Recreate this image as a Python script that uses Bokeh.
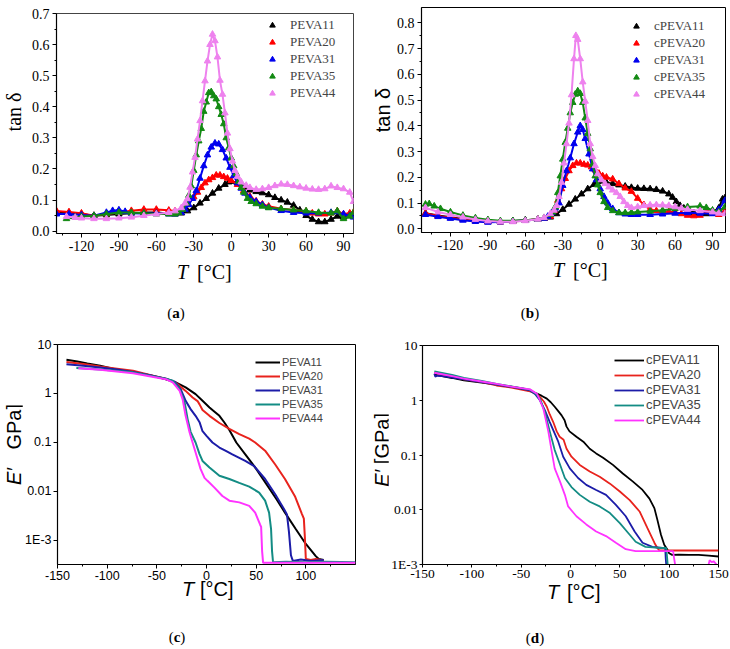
from bokeh.plotting import figure
from bokeh.models import Range1d, FixedTicker, Legend, LegendItem, PrintfTickFormatter, Div
from bokeh.layouts import column, row
from bokeh.embed import file_html
from bokeh.resources import INLINE

# ---------------- panel (a): tan delta, PEVA ----------------
a_names = ["PEVA11", "PEVA20", "PEVA31", "PEVA35", "PEVA44"]
a11_T = [-140, -130, -120, -110, -100, -90, -80, -70, -60, -50, -45, -40, -35, -30, -25, -20, -15, -10, -5, -2, 0, 5, 10, 15, 20, 25, 30, 35, 40, 45, 50, 55, 60, 65, 70, 75, 80, 85, 90, 95, 98]
a11_v = [0.060, 0.058, 0.055, 0.050, 0.052, 0.055, 0.058, 0.060, 0.060, 0.057, 0.055, 0.058, 0.065, 0.075, 0.090, 0.105, 0.122, 0.138, 0.150, 0.158, 0.160, 0.156, 0.142, 0.132, 0.127, 0.123, 0.117, 0.108, 0.100, 0.093, 0.083, 0.068, 0.050, 0.038, 0.030, 0.030, 0.038, 0.048, 0.045, 0.050, 0.055]
a20_T = [-140, -130, -120, -110, -100, -90, -80, -70, -60, -50, -45, -40, -35, -30, -27, -24, -21, -18, -15, -12, -9, -6, -3, 0, 5, 10, 15, 20, 25, 30, 40, 50, 60, 65, 70, 75, 80, 85, 90, 95, 98]
a20_v = [0.065, 0.062, 0.058, 0.050, 0.055, 0.060, 0.066, 0.070, 0.070, 0.067, 0.065, 0.070, 0.085, 0.110, 0.125, 0.140, 0.155, 0.165, 0.172, 0.180, 0.180, 0.175, 0.170, 0.163, 0.150, 0.130, 0.112, 0.097, 0.087, 0.080, 0.072, 0.068, 0.064, 0.058, 0.055, 0.055, 0.058, 0.065, 0.055, 0.058, 0.060]
a31_T = [-140, -130, -120, -110, -100, -95, -90, -85, -80, -70, -60, -50, -45, -40, -37, -34, -31, -28, -25, -22, -19, -16, -13, -10, -7, -4, -1, 2, 5, 8, 11, 15, 20, 25, 30, 40, 50, 60, 70, 80, 90, 95, 98]
a31_v = [0.055, 0.055, 0.052, 0.050, 0.060, 0.066, 0.068, 0.063, 0.058, 0.057, 0.057, 0.055, 0.055, 0.060, 0.070, 0.085, 0.105, 0.130, 0.170, 0.210, 0.245, 0.270, 0.283, 0.280, 0.262, 0.235, 0.205, 0.178, 0.155, 0.138, 0.122, 0.108, 0.095, 0.085, 0.076, 0.066, 0.060, 0.058, 0.058, 0.060, 0.055, 0.050, 0.045]
a35_T = [-132, -125, -120, -110, -100, -90, -80, -70, -60, -50, -45, -42, -39, -36, -34, -32, -30, -28, -26, -24, -22, -20, -18, -16, -14, -12, -10, -8, -6, -4, -2, 0, 2, 4, 6, 8, 10, 13, 16, 20, 25, 30, 40, 50, 60, 70, 80, 85, 90, 95, 98]
a35_v = [0.040, 0.045, 0.047, 0.050, 0.055, 0.060, 0.060, 0.058, 0.055, 0.055, 0.055, 0.060, 0.070, 0.090, 0.115, 0.145, 0.195, 0.245, 0.290, 0.330, 0.385, 0.415, 0.445, 0.448, 0.435, 0.425, 0.400, 0.375, 0.345, 0.300, 0.268, 0.235, 0.210, 0.185, 0.160, 0.140, 0.125, 0.105, 0.095, 0.088, 0.080, 0.075, 0.072, 0.068, 0.065, 0.060, 0.058, 0.065, 0.040, 0.048, 0.060]
a44_T = [-132, -125, -120, -110, -100, -90, -80, -70, -60, -50, -45, -40, -37, -35, -33, -31, -29, -27, -25, -23, -21, -19, -17, -15, -13, -11, -9, -7, -5, -3, -1, 1, 3, 5, 8, 12, 15, 20, 25, 30, 35, 40, 45, 50, 55, 60, 65, 70, 75, 80, 85, 90, 95, 98]
a44_v = [0.047, 0.044, 0.042, 0.040, 0.040, 0.042, 0.045, 0.050, 0.055, 0.060, 0.065, 0.075, 0.090, 0.104, 0.141, 0.190, 0.237, 0.296, 0.355, 0.419, 0.483, 0.547, 0.600, 0.633, 0.612, 0.560, 0.485, 0.440, 0.380, 0.315, 0.265, 0.225, 0.195, 0.176, 0.158, 0.147, 0.140, 0.134, 0.136, 0.140, 0.146, 0.151, 0.150, 0.146, 0.142, 0.138, 0.135, 0.134, 0.136, 0.145, 0.140, 0.136, 0.125, 0.095]

# ---------------- panel (b): tan delta, cPEVA ----------------
b_names = ["cPEVA11", "cPEVA20", "cPEVA31", "cPEVA35", "cPEVA44"]
b11_T = [-140, -130, -120, -110, -100, -90, -80, -70, -60, -50, -45, -40, -35, -30, -25, -20, -15, -10, -5, -2, 1, 5, 10, 15, 20, 25, 30, 35, 40, 45, 50, 55, 58, 61, 64, 67, 70, 75, 80, 85, 90, 95, 98, 100]
b11_v = [0.060, 0.052, 0.045, 0.038, 0.032, 0.028, 0.027, 0.030, 0.033, 0.037, 0.040, 0.045, 0.058, 0.075, 0.095, 0.115, 0.135, 0.155, 0.172, 0.182, 0.185, 0.180, 0.175, 0.170, 0.165, 0.160, 0.157, 0.156, 0.155, 0.152, 0.146, 0.135, 0.122, 0.105, 0.090, 0.080, 0.070, 0.062, 0.060, 0.058, 0.060, 0.080, 0.115, 0.120]
b20_T = [-140, -130, -120, -110, -100, -90, -80, -70, -60, -50, -45, -40, -37, -34, -31, -28, -25, -22, -19, -16, -13, -10, -7, -4, -1, 2, 5, 10, 15, 20, 25, 30, 35, 40, 45, 50, 55, 60, 65, 70, 75, 80, 85, 90, 95, 100]
b20_v = [0.060, 0.050, 0.043, 0.036, 0.030, 0.027, 0.026, 0.028, 0.032, 0.037, 0.040, 0.048, 0.070, 0.110, 0.155, 0.195, 0.225, 0.245, 0.255, 0.255, 0.250, 0.247, 0.240, 0.228, 0.215, 0.205, 0.200, 0.193, 0.175, 0.158, 0.145, 0.118, 0.093, 0.075, 0.070, 0.068, 0.066, 0.064, 0.058, 0.052, 0.050, 0.052, 0.070, 0.065, 0.055, 0.070]
b31_T = [-140, -130, -120, -110, -100, -90, -80, -70, -60, -50, -45, -42, -39, -36, -33, -30, -27, -24, -21, -18, -16, -14, -12, -9, -6, -3, 0, 3, 6, 10, 15, 20, 25, 30, 40, 50, 60, 70, 80, 90, 95, 100]
b31_v = [0.055, 0.047, 0.040, 0.033, 0.028, 0.025, 0.026, 0.029, 0.032, 0.036, 0.040, 0.048, 0.062, 0.080, 0.100, 0.168, 0.225, 0.275, 0.330, 0.375, 0.400, 0.385, 0.350, 0.290, 0.232, 0.190, 0.155, 0.125, 0.100, 0.078, 0.062, 0.057, 0.055, 0.055, 0.055, 0.057, 0.060, 0.062, 0.060, 0.058, 0.075, 0.110]
b35_T = [-140, -137, -133, -128, -120, -110, -100, -90, -80, -70, -60, -50, -45, -40, -38, -36, -34, -32, -30, -28, -26, -24, -22, -20, -18, -16, -14, -12, -10, -8, -6, -4, -2, 0, 3, 6, 10, 15, 20, 25, 30, 40, 50, 60, 70, 80, 85, 90, 95, 100]
b35_v = [0.095, 0.097, 0.088, 0.078, 0.065, 0.052, 0.042, 0.035, 0.031, 0.031, 0.033, 0.037, 0.043, 0.055, 0.065, 0.085, 0.140, 0.205, 0.270, 0.335, 0.390, 0.450, 0.490, 0.522, 0.535, 0.525, 0.490, 0.430, 0.370, 0.310, 0.250, 0.205, 0.170, 0.140, 0.105, 0.082, 0.070, 0.062, 0.062, 0.063, 0.065, 0.068, 0.072, 0.078, 0.085, 0.088, 0.082, 0.072, 0.065, 0.085]
b44_T = [-140, -130, -120, -110, -100, -90, -80, -70, -60, -50, -45, -40, -37, -35, -33, -31, -29, -27, -25, -23, -21, -19.5, -18, -16, -14, -12, -10, -8, -6, -4, -2, 1, 4, 7, 10, 13, 16, 19, 22, 25, 30, 35, 40, 45, 50, 55, 60, 65, 70, 80, 90, 95, 100]
b44_v = [0.082, 0.065, 0.055, 0.045, 0.036, 0.030, 0.027, 0.027, 0.031, 0.037, 0.043, 0.058, 0.072, 0.090, 0.125, 0.180, 0.255, 0.330, 0.410, 0.520, 0.660, 0.750, 0.735, 0.660, 0.570, 0.495, 0.420, 0.330, 0.280, 0.245, 0.213, 0.190, 0.175, 0.162, 0.150, 0.140, 0.125, 0.105, 0.090, 0.082, 0.085, 0.090, 0.092, 0.093, 0.092, 0.090, 0.085, 0.080, 0.075, 0.070, 0.065, 0.060, 0.058]

# ---------------- panel (c): E' (GPa), PEVA ----------------
c11_T = [-141, -130, -120, -107, -91, -74, -57, -41, -31, -21, -11, -4, 3, 9, 13, 18, 23, 30, 40, 48, 60, 70, 79, 90, 100, 110, 113, 118]
c11_v = [4.9, 4.5, 4.1, 3.7, 3.1, 2.75, 2.37, 1.96, 1.68, 1.33, 0.97, 0.71, 0.52, 0.41, 0.35, 0.256, 0.18, 0.1, 0.054, 0.033, 0.0145, 0.0072, 0.0037, 0.0017, 0.00085, 0.00048, 0.00042, 0.0004]
c20_T = [-141, -124, -107, -90, -74, -57, -41, -31, -21, -14, -9, -7, -4, 3, 13, 23, 33, 43, 49, 59, 69, 79, 89, 96, 98, 99, 100, 105, 110, 118]
c20_v = [4.4, 4.0, 3.55, 3.2, 2.9, 2.4, 2.0, 1.68, 1.13, 0.83, 0.7, 0.6, 0.46, 0.35, 0.25, 0.19, 0.148, 0.12, 0.10, 0.068, 0.036, 0.018, 0.008, 0.0035, 0.0028, 0.0012, 0.00042, 0.0004, 0.00042, 0.00039]
c31_T = [-141, -124, -107, -90, -74, -57, -41, -32, -26, -21, -16, -11, -7, -4, 0, 6, 13, 19, 26, 39, 48, 59, 69, 78, 81, 83, 85, 87, 95, 105, 118]
c31_v = [3.96, 3.67, 3.4, 3.1, 2.75, 2.35, 2.0, 1.74, 1.22, 0.71, 0.48, 0.35, 0.26, 0.17, 0.137, 0.1, 0.079, 0.068, 0.057, 0.042, 0.033, 0.018, 0.0089, 0.0044, 0.0034, 0.0015, 0.0005, 0.00038, 0.00041, 0.00038, 0.0004]
c35_T = [-131, -107, -74, -41, -34, -27, -22, -19, -16, -11, -7, -4, 3, 13, 23, 33, 43, 53, 59, 63, 65, 66, 67, 80, 100, 120, 150]
c35_v = [3.3, 3.1, 2.7, 2.0, 1.82, 1.23, 0.66, 0.3, 0.165, 0.1, 0.058, 0.042, 0.031, 0.021, 0.018, 0.015, 0.0126, 0.0095, 0.0065, 0.0037, 0.0017, 0.0006, 0.00036, 0.00037, 0.00036, 0.00037, 0.00036]
c44_T = [-129, -107, -74, -41, -34, -27, -24, -21, -17, -14, -9, -6, -2, 1, 8, 16, 23, 33, 43, 49, 54, 55, 56, 57, 80, 100, 120, 150]
c44_v = [3.29, 3.04, 2.6, 1.96, 1.68, 1.13, 0.76, 0.35, 0.16, 0.1, 0.046, 0.029, 0.019, 0.0165, 0.012, 0.0081, 0.0065, 0.006, 0.0051, 0.0037, 0.0021, 0.0019, 0.0006, 0.00035, 0.00035, 0.00035, 0.00035, 0.00035]

# ---------------- panel (d): E' (GPa), cPEVA ----------------
d11_T = [-138, -120, -108, -90, -75, -60, -48, -40, -34, -29, -24, -20, -16, -12, -9, -6, -4, -1, 6, 13, 19.5, 26, 33, 43, 53, 63, 73, 80, 85, 88, 91.7, 95, 98, 100, 103, 110, 120, 130, 140, 150]
d11_v = [2.93, 2.55, 2.31, 2.1, 1.93, 1.78, 1.63, 1.45, 1.32, 1.2, 1.07, 0.92, 0.76, 0.62, 0.53, 0.43, 0.33, 0.27, 0.215, 0.175, 0.13, 0.107, 0.089, 0.066, 0.046, 0.033, 0.023, 0.016, 0.0107, 0.0066, 0.0035, 0.0023, 0.0019, 0.0016, 0.0015, 0.00152, 0.0015, 0.0015, 0.00145, 0.0014]
d20_T = [-138, -120, -108, -90, -75, -60, -41, -35, -31, -27, -24, -21, -17.5, -14, -11, -7, -4, 1, 9.4, 19.5, 29.6, 40, 50, 60, 70, 78, 85, 88, 90, 100, 120, 150]
d20_v = [3.18, 2.7, 2.4, 2.15, 1.86, 1.7, 1.46, 1.3, 1.15, 0.95, 0.76, 0.55, 0.4, 0.27, 0.215, 0.19, 0.13, 0.093, 0.066, 0.05, 0.04, 0.03, 0.0215, 0.015, 0.0093, 0.0046, 0.0025, 0.002, 0.0018, 0.0018, 0.0018, 0.0018]
d31_T = [-138, -137, -135, -130, -120, -108, -90, -75, -60, -41, -36, -31, -26, -21, -17.5, -12.4, -7.4, -0.7, 7.7, 16, 26, 36, 46, 56, 65, 73, 83, 93, 96, 96.5, 97]
d31_v = [3.06, 2.7, 2.8, 2.75, 2.6, 2.4, 2.15, 1.93, 1.75, 1.51, 1.3, 1.0, 0.66, 0.4, 0.285, 0.175, 0.093, 0.057, 0.038, 0.0285, 0.023, 0.0187, 0.0123, 0.0076, 0.004, 0.0025, 0.0021, 0.002, 0.002, 0.0013, 0.001]
d35_T = [-138, -120, -108, -90, -75, -60, -41, -36, -31, -26, -21, -16, -11, -5.7, 1, 9.4, 19.5, 29.6, 40, 50, 60, 66, 76, 93, 97, 98, 98.5]
d35_v = [3.37, 2.9, 2.55, 2.25, 2.0, 1.8, 1.56, 1.35, 1.07, 0.61, 0.27, 0.123, 0.07, 0.038, 0.026, 0.0187, 0.014, 0.0115, 0.0087, 0.0057, 0.0035, 0.0026, 0.0021, 0.002, 0.002, 0.0013, 0.001]
d44_T = [-138, -120, -108, -90, -75, -60, -41, -34, -31, -27.5, -22.5, -19, -16, -10.7, -5.7, -2.4, 6, 16, 26, 36, 46, 56, 66, 80, 93, 100, 104, 105, 106, float("nan"), 140, 141, 143, 145, 147, 148]
d44_v = [3.18, 2.75, 2.48, 2.2, 2.0, 1.78, 1.58, 1.32, 1.0, 0.7, 0.27, 0.115, 0.057, 0.033, 0.0187, 0.0115, 0.0076, 0.0054, 0.004, 0.0033, 0.0025, 0.0019, 0.00175, 0.00175, 0.00175, 0.00175, 0.00175, 0.0013, 0.001, float("nan"), 0.001, 0.0012, 0.0011, 0.00115, 0.00105, 0.001]

# ---------------- ticks and labels ----------------
tan_x_ticks = [-120, -90, -60, -30, 0, 30, 60, 90]
tan_x_minor = [-135, -105, -75, -45, -15, 15, 45, 75]
a_y_ticks = [0.0, 0.1, 0.2, 0.3, 0.4, 0.5, 0.6, 0.7]
a_y_minor = [0.05, 0.15, 0.25, 0.35, 0.45, 0.55, 0.65]
b_y_ticks = [0.0, 0.1, 0.2, 0.3, 0.4, 0.5, 0.6, 0.7, 0.8]
b_y_minor = [0.05, 0.15, 0.25, 0.35, 0.45, 0.55, 0.65, 0.75]
c_x_ticks = [-150, -100, -50, 0, 50, 100]
d_x_ticks = [-150, -100, -50, 0, 50, 100, 150]
e_x_minor = [-125, -75, -25, 25, 75, 125]
log_ticks = [0.001, 0.01, 0.1, 1, 10]
log_labels = ["1E-3", "0.01", "0.1", "1", "10"]

tan_colors = ["#000000", "#ff0000", "#0000ee", "#138a13", "#ee82ee"]
e_colors = ["#000000", "#e8231d", "#1c1ca8", "#138c84", "#ff33ff"]

SERIF = "Liberation Serif"
SANS = "Liberation Sans"


def make_fig(w, h, bl, br, bt, bb, xr, yr, ylog=False, outline="black"):
    p = figure(width=w, height=h, x_range=Range1d(*xr), y_range=Range1d(*yr),
               y_axis_type="log" if ylog else "linear",
               output_backend="svg", toolbar_location=None, margin=0,
               min_border_left=bl, min_border_right=br, min_border_top=bt, min_border_bottom=bb)
    p.xgrid.visible = False
    p.ygrid.visible = False
    p.outline_line_color = outline
    p.outline_line_width = 1
    p.background_fill_color = "white"
    p.border_fill_color = "white"
    return p


def style_axes(p, font, size, tick_out=4, standoff=3):
    for ax in (p.xaxis[0], p.yaxis[0]):
        ax.axis_line_color = "black"
        ax.axis_line_width = 1.2
        ax.major_tick_line_color = "black"
        ax.minor_tick_line_color = "black"
        ax.major_tick_out = tick_out
        ax.major_tick_in = 0
        ax.minor_tick_out = 2
        ax.minor_tick_in = 0
        ax.major_label_text_font = font
        ax.major_label_text_font_size = size
        ax.major_label_text_color = "black"
        ax.major_label_standoff = standoff


def hspan(x, yc, html, font, size, align="left"):
    tx = "translateX(-50%)" if align == "center" else "none"
    return (f'<span style="position:absolute;left:{x}px;top:{yc - size / 2:.1f}px;transform:{tx};'
            f"font-family:'{font}';font-size:{size}px;line-height:1;white-space:nowrap;color:#000;\">"
            f'{html}</span>')


def vspan_center(left, yc, html, font, size):
    return (f'<span style="position:absolute;left:{left}px;top:{yc}px;'
            f'writing-mode:vertical-rl;transform:translateY(-50%) rotate(180deg);'
            f"font-family:'{font}';font-size:{size}px;line-height:0.8;white-space:nowrap;color:#000;\">"
            f'{html}</span>')


def vspan_start(left, ystart, h, html, font, size):
    return (f'<span style="position:absolute;left:{left}px;bottom:{h - ystart:.1f}px;'
            f'writing-mode:vertical-rl;transform:rotate(180deg);'
            f"font-family:'{font}';font-size:{size}px;line-height:0.8;white-space:nowrap;color:#000;\">"
            f'{html}</span>')


def text_div(w, h, spans):
    html = (f'<div style="position:relative;width:{w}px;height:{h}px;overflow:visible;">'
            + "".join(spans) + "</div>")
    return Div(text=html, width=w, height=h, margin=0, styles={"overflow": "visible"})


def tan_panel(p, Ts, vs, names, loc, standoff, spacing):
    items = []
    for T, v, c, n in zip(Ts, vs, tan_colors, names):
        p.line(T, v, line_color=c, line_width=2)
        r = p.scatter(T, v, marker="triangle", size=6.5, fill_color=c, line_color=c)
        items.append(LegendItem(label=n, renderers=[r]))
    leg = Legend(items=items, location=loc, label_text_font=SERIF, label_text_font_size="13px",
                 glyph_width=14, glyph_height=14, label_height=14, label_standoff=standoff,
                 spacing=spacing, padding=0, margin=0, border_line_alpha=0,
                 background_fill_alpha=0)
    p.add_layout(leg)


def e_panel(p, Ts, vs, names, loc, gw, fsize, lh, spacing, lw):
    items = []
    for T, v, c, n in zip(Ts, vs, e_colors, names):
        r = p.line(T, v, line_color=c, line_width=lw)
        items.append(LegendItem(label=n, renderers=[r]))
    leg = Legend(items=items, location=loc, label_text_font=SANS, label_text_font_size=fsize,
                 glyph_width=gw, glyph_height=lh, label_height=lh, label_standoff=2,
                 spacing=spacing, padding=0, margin=0, border_line_alpha=0,
                 background_fill_alpha=0)
    p.add_layout(leg)


# ---------------- (a) ----------------
pa = make_fig(343, 258, 34, 12, 13, 25, (-140, 98), (-0.0074, 0.7), outline="#444444")
style_axes(pa, SERIF, "14px")
pa.xaxis.ticker = FixedTicker(ticks=tan_x_ticks, minor_ticks=tan_x_minor)
pa.xaxis.formatter = PrintfTickFormatter(format="%d")
pa.yaxis.ticker = FixedTicker(ticks=a_y_ticks, minor_ticks=a_y_minor)
pa.yaxis.formatter = PrintfTickFormatter(format="%.1f")
tan_panel(pa, [a11_T, a20_T, a31_T, a35_T, a44_T], [a11_v, a20_v, a31_v, a35_v, a44_v],
          a_names, (209, 132), 11, 1)
ya = text_div(22, 258, [vspan_center(6, 112, "tan δ", SERIF, 20)])
xa = text_div(365, 72, [hspan(177, 14, "<i>T</i>", SERIF, 20), hspan(197, 14, "[°C]", SERIF, 20),
                        hspan(176, 55, "(<b>a</b>)", SERIF, 15, align="center")])
panel_a = column(row(ya, pa), xa)

# ---------------- (b) ----------------
pb = make_fig(336, 258, 27, 4, 7, 26, (-143.2, 100.4), (-0.0144, 0.8594))
style_axes(pb, SERIF, "14px")
pb.xaxis.ticker = FixedTicker(ticks=tan_x_ticks, minor_ticks=tan_x_minor)
pb.xaxis.formatter = PrintfTickFormatter(format="%d")
pb.yaxis.ticker = FixedTicker(ticks=b_y_ticks, minor_ticks=b_y_minor)
pb.yaxis.formatter = PrintfTickFormatter(format="%.1f")
tan_panel(pb, [b11_T, b20_T, b31_T, b35_T, b44_T], [b11_v, b20_v, b31_v, b35_v, b44_v],
          b_names, (208, 130), 11, 1)
yb = text_div(28, 258, [vspan_center(10, 110, "tan δ", SANS, 20)])
xb = text_div(364, 72, [hspan(188, 12, "<i>T</i>", SERIF, 20), hspan(208, 12, "[°C]", SERIF, 20),
                        hspan(165, 55, "(<b>b</b>)", SERIF, 15, align="center")])
panel_b = column(row(yb, pb), xb)

# ---------------- (c) ----------------
pc = make_fig(343, 256, 33, 10, 14, 22, (-150, 150), (10 ** -3.49, 10), ylog=True)
style_axes(pc, SANS, "12.5px", standoff=2)
pc.xaxis.ticker = FixedTicker(ticks=c_x_ticks, minor_ticks=e_x_minor)
pc.xaxis.formatter = PrintfTickFormatter(format="%d")
pc.yaxis.ticker = FixedTicker(ticks=log_ticks, minor_ticks=[])
pc.yaxis.major_label_overrides = dict(zip(log_ticks, log_labels))
e_panel(pc, [c11_T, c20_T, c31_T, c35_T, c44_T], [c11_v, c20_v, c31_v, c35_v, c44_v],
        a_names, (198, 140), 25, "11px", 12, 2, 2)
yc = text_div(22, 256, [vspan_start(6, 155, 256, "<i>E′</i>", SANS, 20),
                        vspan_start(6, 120, 256, "GPa]", SANS, 20)])
xc = text_div(365, 62, [hspan(182, 3, "<i>T</i>", SANS, 20), hspan(200, 3, "[°C]", SANS, 20),
                        hspan(177, 51, "(<b>c</b>)", SERIF, 15, align="center")])
panel_c = column(row(yc, pc), xc)

# ---------------- (d) ----------------
pd = make_fig(341, 256, 32, 11, 15, 22, (-150, 150), (0.001, 10), ylog=True)
style_axes(pd, SERIF, "13.5px", tick_out=3, standoff=2)
pd.xaxis.ticker = FixedTicker(ticks=d_x_ticks, minor_ticks=e_x_minor)
pd.xaxis.formatter = PrintfTickFormatter(format="%d")
pd.yaxis.ticker = FixedTicker(ticks=log_ticks, minor_ticks=[])
pd.yaxis.major_label_overrides = dict(zip(log_ticks, log_labels))
e_panel(pd, [d11_T, d20_T, d31_T, d35_T, d44_T], [d11_v, d20_v, d31_v, d35_v, d44_v],
        b_names, (192, 137), 30, "13px", 14, 0, 1.8)
yd = text_div(23, 256, [vspan_start(8.7, 156.7, 256, "<i>E′</i> [GPa]", SANS, 20)])
xd = text_div(364, 62, [hspan(182, 6, "<i>T</i>", SANS, 20), hspan(202, 6, "[°C]", SANS, 20),
                        hspan(170, 52, "(<b>d</b>)", SERIF, 15, align="center")])
panel_d = column(row(yd, pd), xd)

layout = column(row(panel_a, panel_b), row(panel_c, panel_d))
open("out.html", "w").write(file_html(layout, INLINE))
